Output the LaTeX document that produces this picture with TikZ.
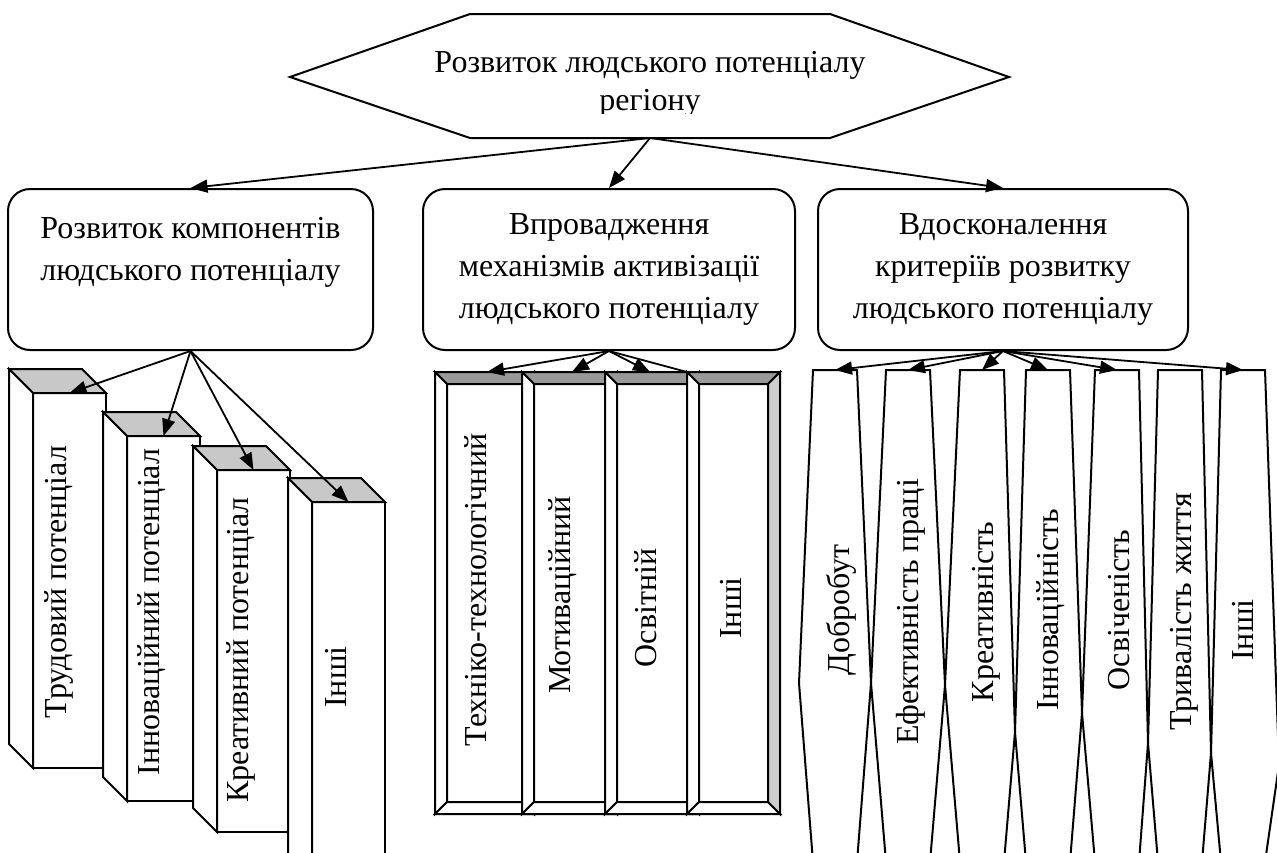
\documentclass[tikz,border=0pt]{standalone}
\usepackage{fontspec}
\setmainfont{Liberation Serif}
\usetikzlibrary{arrows.meta}
\definecolor{facegray}{RGB}{200,200,200}
\definecolor{bevdark}{RGB}{153,153,153}
\definecolor{bevlight}{RGB}{205,205,205}
\tikzset{
  lbl/.style={font=\fontsize{32}{42}\selectfont, inner sep=0pt},
  vlbl/.style={lbl, rotate=90},
  rim/.style={line width=2pt, line join=miter},
  goalbox/.style={rim, draw, rounded corners=22pt, minimum height=161pt, align=center, lbl},
  arr/.style={-{Triangle[length=17pt,width=13pt]}, line width=1.8pt}
}
\begin{document}
\begin{tikzpicture}[x=1pt,y=-1pt]
\useasboundingbox (0,0) rectangle (1277,852);
\clip (0,0) rectangle (1277,852);

\draw[rim] (290,77) -- (470,14) -- (830,14) -- (1009,77) -- (830,138) -- (470,138) -- cycle;
\coordinate (goal-s) at (650,138);
\node[lbl, anchor=base] (goal) at (650,72) {Розвиток людського потенціалу};
\begin{scope}
  \clip (500,80) rectangle (800,113);
  \node[lbl, anchor=base] (goal2) at (650,110) {регіону};
\end{scope}

\node[goalbox, minimum width=365pt] (comp) at (190.5,269.5) {Розвиток компонентів\\людського потенціалу\\\mbox{}};
\node[goalbox, minimum width=372pt] (mech) at (609,269.5) {Впровадження\\механізмів активізації\\людського потенціалу};
\node[goalbox, minimum width=370pt] (crit) at (1003,269.5) {Вдосконалення\\критеріїв розвитку\\людського потенціалу};

\draw[arr] (goal-s) -- (comp.north);
\draw[arr] (goal-s) -- (mech.north);
\draw[arr] (goal-s) -- (crit.north);

% components
\foreach \x/\y/\h/\i in {33/393/375/1, 127/436/365/2, 217/470/362/3, 312/502/400/4}{
  \draw[rim, fill=white] (\x,\y) rectangle ++(73,\h);
  \draw[rim, fill=facegray] (\x,\y) -- ++(-24,-24) -- ++(73,0) -- ++(24,24) -- cycle;
  \draw[rim, fill=white] (\x,\y) -- ++(-24,-24) -- ++(0,\h) -- ++(24,24) -- cycle;
  \coordinate (p\i) at (\x+36.5,\y);
}
\node[vlbl] (lab1) at (59,582) {Трудовий потенціал};
\node[vlbl] (lab2) at (152,612) {Інноваційний потенціал};
\node[vlbl] (lab3) at (241,650) {Креативний потенціал};
\node[vlbl] (lab4) at (336,677) {Інші};
\foreach \i in {1,...,4}
  \draw[arr] (comp.south) -- (p\i);

% mechanisms
\foreach \x/\w/\i in {435/99/1, 522/95/2, 605/94/3, 687/93/4}{
  \draw[rim, fill=white] (\x+12,384) rectangle (\x+\w-12,802);
  \draw[rim, fill=bevdark] (\x,372) -- (\x+\w,372) -- (\x+\w-12,384) -- (\x+12,384) -- cycle;
  \draw[rim, fill=white] (\x,372) -- (\x+12,384) -- (\x+12,802) -- (\x,814) -- cycle;
  \draw[rim, fill=white] (\x,814) -- (\x+12,802) -- (\x+\w-12,802) -- (\x+\w,814) -- cycle;
  \draw[rim, fill=bevlight] (\x+\w,372) -- (\x+\w,814) -- (\x+\w-12,802) -- (\x+\w-12,384) -- cycle;
}
\node[vlbl] (mot1) at (476,590) {Техніко-технологічний};
\node[vlbl] (mot2) at (563,595) {Мотиваційний};
\node[vlbl] (mot3) at (646,608) {Освітній};
\node[vlbl] (mot4) at (731,608) {Інші};
\coordinate (f1) at (487,372);
\coordinate (f2) at (572,372);
\coordinate (f3) at (650,372);
\coordinate (f4) at (687,372);
\foreach \i in {1,2,3}
  \draw[arr] (mech.south) -- (f\i);
\draw[line width=1.8pt] (mech.south) -- (f4);

% criteria
\coordinate (c0) at (799,683);
\coordinate (c1) at (871,683);
\coordinate (c2) at (945,685);
\coordinate (c3) at (1015,732);
\coordinate (c4) at (1082,713);
\coordinate (c5) at (1148,743);
\coordinate (c6) at (1211,753);
\coordinate (c7) at (1279,765);
\foreach \x/\a/\b in {813/0/1, 886/1/2, 960/2/3, 1026/3/4, 1095/4/5, 1158/5/6, 1221/6/7}{
  \draw[rim] (\x,370) -- (\x+44,370) -- (c\b) -- (\x+44,862) -- (\x,862) -- (c\a) -- cycle;
  \coordinate (s\b) at (\x+22,370);
}
\node[vlbl] (cr1) at (841,610) {Добробут};
\node[vlbl] (cr2) at (911,612) {Ефективність праці};
\node[vlbl] (cr3) at (986,612) {Креативність};
\node[vlbl] (cr4) at (1051,610) {Інноваційність};
\node[vlbl] (cr5) at (1119,610) {Освіченість};
\node[vlbl] (cr6) at (1184,612) {Тривалість життя};
\node[vlbl] (cr7) at (1243,630) {Інші};
\foreach \i in {1,2,3,4,5,7}
  \draw[arr] (crit.south) -- (s\i);
\end{tikzpicture}
\end{document}
